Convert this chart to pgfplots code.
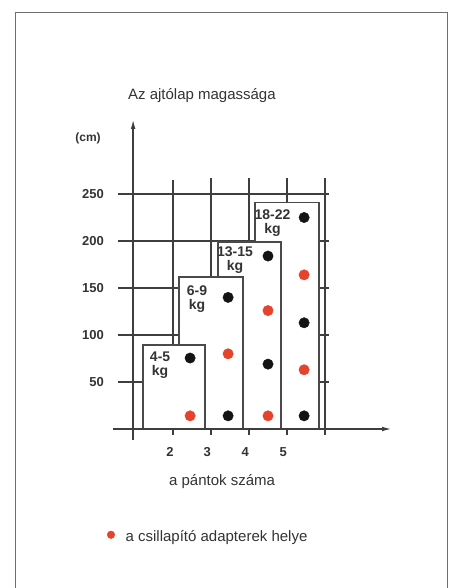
\documentclass[border=0pt]{standalone}
\usepackage{pgfplots}
\pgfplotsset{compat=1.18}
\usepackage{fontspec}
\setmainfont{Liberation Sans}
\usetikzlibrary{arrows.meta}
\definecolor{dotred}{HTML}{E5432C}
\definecolor{ink}{HTML}{333333}
\definecolor{gridc}{HTML}{3E3E3E}
\definecolor{boxc}{HTML}{4A4A4A}
\definecolor{framec}{HTML}{6E6E6E}
\begin{document}
\begin{tikzpicture}
\begin{axis}[hide axis, x=38pt, y=0.94pt, xmin=-2.553, xmax=9.263, ymin=-169.15, ymax=456.4, clip=false]
% frame
\addplot[color=framec, line width=1pt, mark=none] coordinates {(-2.132,-180) (-2.132,443.6) (9.211,443.6) (9.211,-180)};
% horizontal grid lines
\addplot[gridc, line width=1.5pt, mark=none] coordinates {(0.55,50) (6.1,50)};
\addplot[gridc, line width=1.5pt, mark=none] coordinates {(0.55,100) (6.1,100)};
\addplot[gridc, line width=1.5pt, mark=none] coordinates {(0.55,150) (6.1,150)};
\addplot[gridc, line width=1.5pt, mark=none] coordinates {(0.55,200) (6.1,200)};
\addplot[gridc, line width=1.5pt, mark=none] coordinates {(0.55,250) (6.1,250)};
% vertical grid lines
\addplot[gridc, line width=1.5pt, mark=none] coordinates {(2,-6.5) (2,265)};
\addplot[gridc, line width=1.5pt, mark=none] coordinates {(3,-6.5) (3,267)};
\addplot[gridc, line width=1.5pt, mark=none] coordinates {(4,-6.5) (4,267)};
\addplot[gridc, line width=1.5pt, mark=none] coordinates {(5,-6.5) (5,267)};
\addplot[gridc, line width=1.5pt, mark=none] coordinates {(6,-6.5) (6,267)};
% boxes (back to front)
\addplot[fill=white, draw=boxc, line width=1.8pt, mark=none] coordinates {(4.16,0) (4.16,241) (5.84,241) (5.84,0) (4.16,0)};
\addplot[fill=white, draw=boxc, line width=1.8pt, mark=none] coordinates {(3.18,0) (3.18,199) (4.84,199) (4.84,0) (3.18,0)};
\addplot[fill=white, draw=boxc, line width=1.8pt, mark=none] coordinates {(2.16,0) (2.16,162) (3.84,162) (3.84,0) (2.16,0)};
\addplot[fill=white, draw=boxc, line width=1.8pt, mark=none] coordinates {(1.21,0) (1.21,89) (2.84,89) (2.84,0) (1.21,0)};
% axes
\addplot[gridc, line width=1.8pt, mark=none, -{Latex[length=11pt,width=4.5pt]}] coordinates {(0.42,0) (7.79,0)};
\addplot[gridc, line width=1.8pt, mark=none, -{Latex[length=11pt,width=4.5pt]}] coordinates {(0.95,-11.7) (0.95,331)};
% dots
\addplot[only marks, mark=*, mark size=5.2pt, color=black!92] coordinates {(2.45,75.5) (3.45,140) (3.45,14) (4.5,184) (4.5,69) (5.45,225) (5.45,113) (5.45,14)};
\addplot[only marks, mark=*, mark size=5.2pt, color=dotred] coordinates {(2.45,14) (3.45,80) (4.5,126) (4.5,14) (5.45,164) (5.45,63)};
% legend dot
\addplot[only marks, mark=*, mark size=3.8pt, color=dotred] coordinates {(0.368,-112.5)};
% tick labels
\node[anchor=east, text=ink, font=\fontsize{13}{13}\selectfont\bfseries] at (axis cs:0.27,50) {50};
\node[anchor=east, text=ink, font=\fontsize{13}{13}\selectfont\bfseries] at (axis cs:0.27,100) {100};
\node[anchor=east, text=ink, font=\fontsize{13}{13}\selectfont\bfseries] at (axis cs:0.27,150) {150};
\node[anchor=east, text=ink, font=\fontsize{13}{13}\selectfont\bfseries] at (axis cs:0.27,200) {200};
\node[anchor=east, text=ink, font=\fontsize{13}{13}\selectfont\bfseries] at (axis cs:0.27,250) {250};
\node[text=ink, font=\fontsize{13}{13}\selectfont\bfseries] at (axis cs:1.92,-24.5) {2};
\node[text=ink, font=\fontsize{13}{13}\selectfont\bfseries] at (axis cs:2.9,-24.5) {3};
\node[text=ink, font=\fontsize{13}{13}\selectfont\bfseries] at (axis cs:3.9,-24.5) {4};
\node[text=ink, font=\fontsize{13}{13}\selectfont\bfseries] at (axis cs:4.9,-24.5) {5};
\node[text=ink, font=\fontsize{12}{12}\selectfont\bfseries] at (axis cs:-0.237,309.6) {(cm)};
% box labels
\node[text=ink, align=center, font=\fontsize{14}{14}\selectfont\bfseries] at (axis cs:1.66,68) {4-5\\kg};
\node[text=ink, align=center, font=\fontsize{14}{14}\selectfont\bfseries] at (axis cs:2.63,138) {6-9\\kg};
\node[text=ink, align=center, font=\fontsize{14}{14}\selectfont\bfseries] at (axis cs:3.63,180) {13-15\\kg};
\node[text=ink, align=center, font=\fontsize{14}{14}\selectfont\bfseries] at (axis cs:4.62,219) {18-22\\kg};
% titles
\node[text=ink, font=\fontsize{15}{15}\selectfont] at (axis cs:2.76,355) {Az ajtólap magassága};
\node[text=ink, font=\fontsize{15}{15}\selectfont] at (axis cs:3.29,-56.4) {a pántok száma};
\node[text=ink, anchor=west, font=\fontsize{15}{15}\selectfont] at (axis cs:0.66,-115.5) {a csillapító adapterek helye};
\end{axis}
\pgfresetboundingbox
\path[use as bounding box] (current axis.south west) rectangle (current axis.north east);
\end{tikzpicture}
\end{document}
